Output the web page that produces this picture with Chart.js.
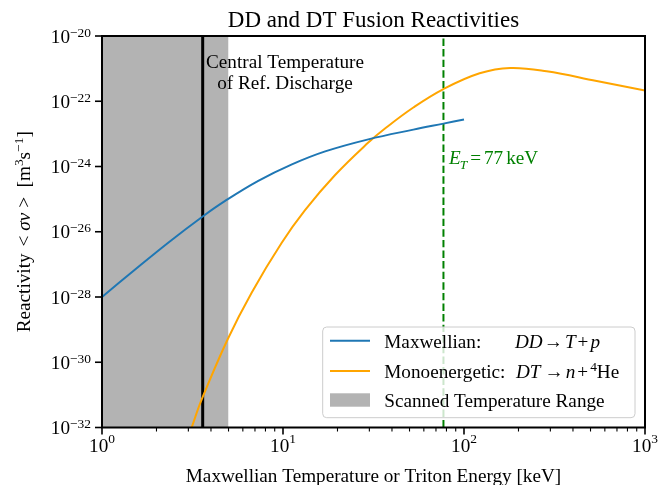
<!DOCTYPE html>
<html><head><meta charset="utf-8">
<script src="https://cdn.jsdelivr.net/npm/chart.js@4.4.1/dist/chart.umd.min.js"></script>
<style>html,body{margin:0;padding:0;background:#fff;}canvas{display:block;}</style>
</head><body>
<canvas id="c" width="670" height="485"></canvas>
<script>
// ---------------- data ----------------
const ddTemperature = [1, 1.53, 2.34, 3.57, 4.79, 7.3, 11.2, 17.1, 29.6, 52.5, 77, 100];
const ddReactivity  = [1.0e-28, 7.08e-28, 4.79e-27, 2.84e-26, 8.79e-26, 3.62e-25, 1.16e-24, 2.90e-24, 6.79e-24, 1.35e-23, 2.06e-23, 2.75e-23];

const dtEnergy     = [2.95, 3.13, 3.56, 4.94, 6.71, 9.84, 13.2, 19.4, 29.6, 36.6, 52.5, 77, 122, 180, 286, 541, 1000];
const dtReactivity = [3.7e-33, 1.0e-32, 7.38e-32, 4.99e-30, 1.36e-28, 4.58e-27, 4.49e-26, 5.47e-25, 5.40e-24, 1.46e-23, 6.43e-23, 2.36e-22, 7.19e-22, 1.05e-21, 8.32e-22, 4.17e-22, 2.14e-22];

const scanRange = [1, 5];            // keV, shaded span
const centralTemperature = 3.6;      // keV, black vertical line
const tritonEnergy = 77;             // keV, green dashed line

const xRange = [1, 1000];
const yRange = [1e-32, 1e-20];
const xTickValues = [1, 10, 100, 1000];
const xTickExponents = ['0', '1', '2', '3'];
const yTickValues = [1e-32, 1e-30, 1e-28, 1e-26, 1e-24, 1e-22, 1e-20];
const yTickExponents = ['\u221232', '\u221230', '\u221228', '\u221226', '\u221224', '\u221222', '\u221220'];

const titleText = 'DD and DT Fusion Reactivities';
const xTitleText = 'Maxwellian Temperature or Triton Energy [keV]';
const annotationLines = ['Central Temperature', 'of Ref. Discharge'];
const legendNames = ['Maxwellian:', 'Monoenergetic:', 'Scanned Temperature Range'];

// ---------------- text helpers ----------------
const FONT = '"Liberation Serif", "Times New Roman", serif';
const BASE = 19.2;
function fnt(size, it) { return (it ? 'italic ' : '') + size + 'px ' + FONT; }
function segSize(s, size) { return (s.sup || s.sub) ? size * 0.7 : size; }
function richWidth(ctx, segs, size) {
  let w = 0;
  for (const s of segs) { ctx.font = fnt(segSize(s, size), s.it); w += ctx.measureText(s.t).width + (s.gl || 0) + (s.gr || 0); }
  return w;
}
function drawRich(ctx, segs, x, y, size, align, color, raise) {
  const w = richWidth(ctx, segs, size);
  let cx = align === 'center' ? x - w / 2 : align === 'right' ? x - w : x;
  ctx.fillStyle = color; ctx.textBaseline = 'alphabetic'; ctx.textAlign = 'left';
  for (const s of segs) {
    ctx.font = fnt(segSize(s, size), s.it);
    cx += s.gl || 0;
    const dy = s.sup ? -(raise != null ? raise : size * 0.36) : (s.sub ? size * 0.22 : 0);
    ctx.fillText(s.t, cx, y + dy);
    cx += ctx.measureText(s.t).width + (s.gr || 0);
  }
}

const overlay = {
  id: 'overlay',
  afterDraw(chart) {
    const ctx = chart.ctx, a = chart.chartArea, xs = chart.scales.x, ys = chart.scales.y;
    ctx.save();
    // frame
    ctx.strokeStyle = '#000'; ctx.lineWidth = 2;
    ctx.strokeRect(a.left, a.top, a.right - a.left, a.bottom - a.top);
    // x ticks (major + minor)
    ctx.lineWidth = 1.6;
    for (const v of xTickValues) {
      const px = xs.getPixelForValue(v);
      ctx.beginPath(); ctx.moveTo(px, a.bottom); ctx.lineTo(px, a.bottom + 7); ctx.stroke();
    }
    ctx.lineWidth = 1.1;
    for (let d = 0; d < xTickValues.length - 1; d++) {
      for (let m = 2; m <= 9; m++) {
        const px = xs.getPixelForValue(xTickValues[d] * m);
        ctx.beginPath(); ctx.moveTo(px, a.bottom); ctx.lineTo(px, a.bottom + 4); ctx.stroke();
      }
    }
    ctx.lineWidth = 1.6;
    for (const v of yTickValues) {
      const py = ys.getPixelForValue(v);
      ctx.beginPath(); ctx.moveTo(a.left, py); ctx.lineTo(a.left - 7, py); ctx.stroke();
    }
    // tick labels
    xTickValues.forEach((v, i) => {
      drawRich(ctx, [{t: '10'}, {t: xTickExponents[i], sup: true}], xs.getPixelForValue(v), a.bottom + 24.5, BASE, 'center', '#000', 9);
    });
    yTickValues.forEach((v, i) => {
      drawRich(ctx, [{t: '10'}, {t: yTickExponents[i], sup: true}], a.left - 11, ys.getPixelForValue(v) + 6.5, BASE, 'right', '#000', 6);
    });
    // title
    const cxp = (a.left + a.right) / 2;
    ctx.font = fnt(23); ctx.fillStyle = '#000'; ctx.textAlign = 'center'; ctx.textBaseline = 'alphabetic';
    ctx.fillText(titleText, cxp, 26.7);
    // x title
    ctx.font = fnt(BASE);
    ctx.fillText(xTitleText, cxp, 481.5);
    // y title (rotated)
    ctx.save();
    ctx.translate(30, (a.top + a.bottom) / 2);
    ctx.rotate(-Math.PI / 2);
    drawRich(ctx, [
      {t: 'Reactivity '}, {t: '<', gl: 2, gr: 5}, {t: '\u03c3v', it: true}, {t: '>', gl: 5, gr: 0},
      {t: '  [m'}, {t: '3', sup: true}, {t: 's'}, {t: '\u22121', sup: true}, {t: ']'}
    ], 0, 0, BASE, 'center', '#000', 7);
    ctx.restore();
    // annotation near central temperature
    ctx.font = fnt(BASE); ctx.fillStyle = '#000'; ctx.textAlign = 'center';
    ctx.fillText(annotationLines[0], 285, 67.7);
    ctx.fillText(annotationLines[1], 285, 88.5);
    // E_T annotation
    const ex = xs.getPixelForValue(tritonEnergy) + 5.5;
    drawRich(ctx, [
      {t: 'E', it: true}, {t: 'T', it: true, sub: true, gl: -1}, {t: '=', gl: 3, gr: 3}, {t: '77'}, {t: 'keV', gl: 3}
    ], ex, 164.4, BASE, 'left', '#008000');
    // legend
    const lx = 322.7, ly = 327, lw = 312.3, lh = 90.7, r = 4;
    ctx.beginPath();
    ctx.moveTo(lx + r, ly); ctx.lineTo(lx + lw - r, ly); ctx.quadraticCurveTo(lx + lw, ly, lx + lw, ly + r);
    ctx.lineTo(lx + lw, ly + lh - r); ctx.quadraticCurveTo(lx + lw, ly + lh, lx + lw - r, ly + lh);
    ctx.lineTo(lx + r, ly + lh); ctx.quadraticCurveTo(lx, ly + lh, lx, ly + lh - r);
    ctx.lineTo(lx, ly + r); ctx.quadraticCurveTo(lx, ly, lx + r, ly); ctx.closePath();
    ctx.fillStyle = 'rgba(255,255,255,0.8)'; ctx.fill();
    ctx.strokeStyle = '#cccccc'; ctx.lineWidth = 1; ctx.stroke();
    const ds = chart.data.datasets;
    ctx.lineWidth = 2;
    ctx.strokeStyle = ds[0].borderColor;
    ctx.beginPath(); ctx.moveTo(330, 340.7); ctx.lineTo(370, 340.7); ctx.stroke();
    ctx.strokeStyle = ds[1].borderColor;
    ctx.beginPath(); ctx.moveTo(330, 371); ctx.lineTo(370, 371); ctx.stroke();
    ctx.fillStyle = ds[4].backgroundColor;
    ctx.fillRect(330, 393.3, 40, 13.4);
    ctx.font = fnt(BASE); ctx.fillStyle = '#000'; ctx.textAlign = 'left';
    ctx.fillText(legendNames[0], 384.3, 348.3);
    ctx.fillText(legendNames[1], 384.3, 377.7);
    ctx.fillText(legendNames[2], 384.3, 406.7);
    drawRich(ctx, [
      {t: 'DD', it: true}, {t: '\u2192', gl: 1, gr: 2}, {t: 'T', it: true}, {t: '+', gl: 2, gr: 2}, {t: 'p', it: true}
    ], 515, 348.3, BASE, 'left', '#000');
    drawRich(ctx, [
      {t: 'DT', it: true}, {t: '\u2192', gl: 4, gr: 2}, {t: 'n', it: true}, {t: '+', gl: 2, gr: 2}, {t: '4', sup: true}, {t: 'He'}
    ], 516, 377.7, BASE, 'left', '#000', 7);
    ctx.restore();
  }
};

const pts = (xs, ys) => xs.map((x, i) => ({x: x, y: ys[i]}));

new Chart(document.getElementById('c'), {
  type: 'line',
  data: {
    datasets: [
      { label: 'Maxwellian: DD \u2192 T + p', data: pts(ddTemperature, ddReactivity), borderColor: '#1f77b4', borderWidth: 2,
        pointRadius: 0, fill: false, tension: 0.4, order: 1 },
      { label: 'Monoenergetic: DT \u2192 n + \u2074He', data: pts(dtEnergy, dtReactivity), borderColor: '#ffa500', borderWidth: 2,
        pointRadius: 0, fill: false, tension: 0.4, order: 2 },
      { label: 'E_T', data: [{x: tritonEnergy, y: yRange[0]}, {x: tritonEnergy, y: yRange[1]}], borderColor: '#008000', borderWidth: 2,
        borderDash: [7.4, 3.2], pointRadius: 0, fill: false, order: 3 },
      { label: 'Central Temperature', data: [{x: centralTemperature, y: yRange[0]}, {x: centralTemperature, y: yRange[1]}],
        borderColor: '#000000', borderWidth: 3, pointRadius: 0, fill: false, order: 4 },
      { label: 'Scanned Temperature Range', data: [{x: scanRange[0], y: yRange[1]}, {x: scanRange[1], y: yRange[1]}],
        borderColor: 'rgba(0,0,0,0)', borderWidth: 0, backgroundColor: '#b3b3b3', pointRadius: 0, fill: 'start', order: 5 }
    ]
  },
  options: {
    responsive: false, animation: false, events: [],
    layout: { padding: { left: 102, right: 25, top: 36, bottom: 57.5 } },
    scales: {
      x: { type: 'logarithmic', min: xRange[0], max: xRange[1], display: false },
      y: { type: 'logarithmic', min: yRange[0], max: yRange[1], display: false }
    },
    plugins: { legend: { display: false }, title: { display: false }, tooltip: { enabled: false } }
  },
  plugins: [overlay]
});
</script>
</body></html>
